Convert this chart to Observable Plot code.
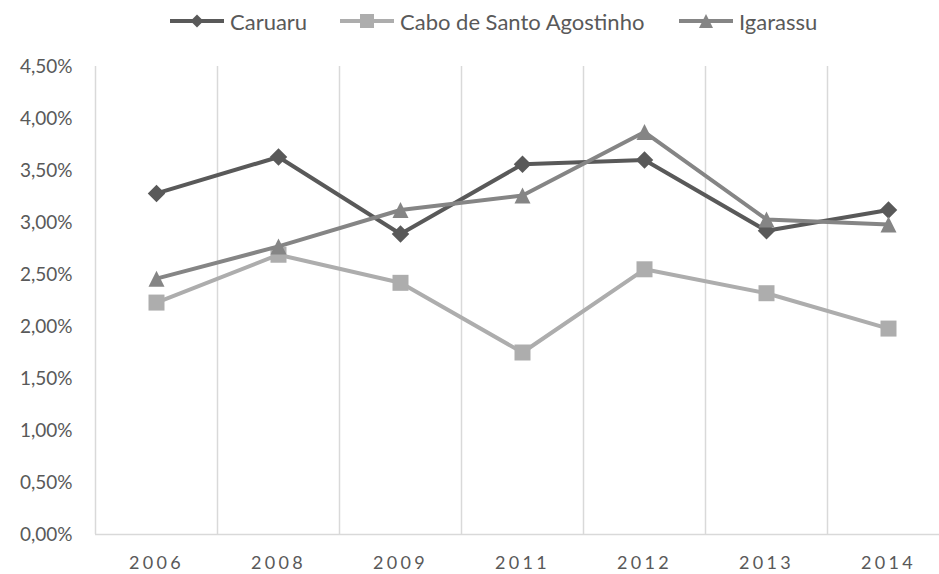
<!DOCTYPE html>
<html><head><meta charset="utf-8">
<script src="https://cdn.jsdelivr.net/npm/d3@7"></script>
<script src="https://cdn.jsdelivr.net/npm/@observablehq/plot@0.6"></script>
<style>
body{margin:0;width:939px;height:574px;overflow:hidden;background:#fff;font-family:Lato,sans-serif;}
#legend{position:relative;height:40px;width:939px;}
.item{position:absolute;top:0;height:42px;display:flex;align-items:center;font-size:22px;color:#595959;white-space:nowrap;}
.item svg{margin-right:6px;}
#chart svg{overflow:hidden;}
#chart [aria-label="x-axis tick label"] text{letter-spacing:3.3px;}
</style></head><body>
<div id="legend"></div><div id="chart"></div>
<script>
const years = ["2006","2008","2009","2011","2012","2013","2014"];
const caruaru = [3.28, 3.63, 2.89, 3.56, 3.60, 2.92, 3.12];
const cabo = [2.23, 2.69, 2.42, 1.75, 2.55, 2.32, 1.98];
const igarassu = [2.46, 2.77, 3.12, 3.26, 3.87, 3.03, 2.98];
const yTicks = [0, 0.5, 1, 1.5, 2, 2.5, 3, 3.5, 4, 4.5];
const seriesNames = ["Caruaru", "Cabo de Santo Agostinho", "Igarassu"];
const colors = ["#595959", "#adadad", "#858585"];

const ptBR = d3.formatLocale({decimal: ",", thousands: ".", grouping: [3], currency: ["R$", ""]});
const fmt = d => ptBR.format(".2f")(d) + "%";

// custom Excel-like markers (s = sqrt(size) = side/diagonal)
const diamond = {draw(ctx, size){const h = Math.sqrt(size)/2; ctx.moveTo(0,-h); ctx.lineTo(h,0); ctx.lineTo(0,h); ctx.lineTo(-h,0); ctx.closePath();}};
const square = {draw(ctx, size){const h = Math.sqrt(size)/2; ctx.rect(-h,-h,2*h,2*h);}};
const triangle = {draw(ctx, size){const h = Math.sqrt(size)/2; ctx.moveTo(0,-h); ctx.lineTo(h,h); ctx.lineTo(-h,h); ctx.closePath();}};
const symbols = [diamond, square, triangle];
const sides = [17.5, 16, 16];
const legendSides = [13, 14, 14];
const rOf = s => s / Math.sqrt(Math.PI);

const seriesValues = [caruaru, cabo, igarassu];
const series = seriesNames.map((name, k) => years.map((year, i) => ({year, value: seriesValues[k][i], name})));

// legend
const legend = document.getElementById("legend");
const legendLeft = [170, 340, 679];
seriesNames.forEach((name, k) => {
  const item = document.createElement("div");
  item.className = "item";
  item.style.left = legendLeft[k] + "px";
  const s = legendSides[k];
  const path = d3.symbol(symbols[k], s * s)();
  item.innerHTML = `<svg width="54" height="20"><line x1="0" x2="54" y1="10" y2="10" stroke="${colors[k]}" stroke-width="4"/><path d="${path}" transform="translate(27,10)" fill="${colors[k]}"/></svg><span>${name}</span>`;
  legend.appendChild(item);
});

const xRange = [95, 949];
const step = (xRange[1] - xRange[0]) / years.length;

const marks = [
  Plot.ruleX(years, {x: d => d, dx: -step / 2, stroke: "#d9d9d9", strokeWidth: 1.5}),
  Plot.ruleY([0], {stroke: "#d9d9d9", strokeWidth: 1.5}),
  Plot.axisY({ticks: yTicks, tickFormat: fmt, tickSize: 0, tickPadding: 23, fontSize: 19}),
  Plot.axisX({tickSize: 0, tickPadding: 22, fontSize: 18})
];
series.forEach((data, k) => {
  marks.push(Plot.line(data, {x: "year", y: "value", stroke: colors[k], strokeWidth: 4, strokeLinejoin: "round", strokeLinecap: "round"}));
  marks.push(Plot.dot(data, {x: "year", y: "value", symbol: symbols[k], r: rOf(sides[k]), fill: colors[k], stroke: "none"}));
});

const chart = Plot.plot({
  width: 939,
  height: 534,
  marginTop: 26,
  marginBottom: 40,
  marginLeft: 95,
  marginRight: 0,
  style: {fontFamily: "Lato, sans-serif", color: "#595959", background: "#fff"},
  x: {type: "point", domain: years, range: xRange, padding: 0.5, label: null},
  y: {domain: [0, 4.5], label: null},
  marks
});
document.getElementById("chart").appendChild(chart);
</script>
</body></html>
